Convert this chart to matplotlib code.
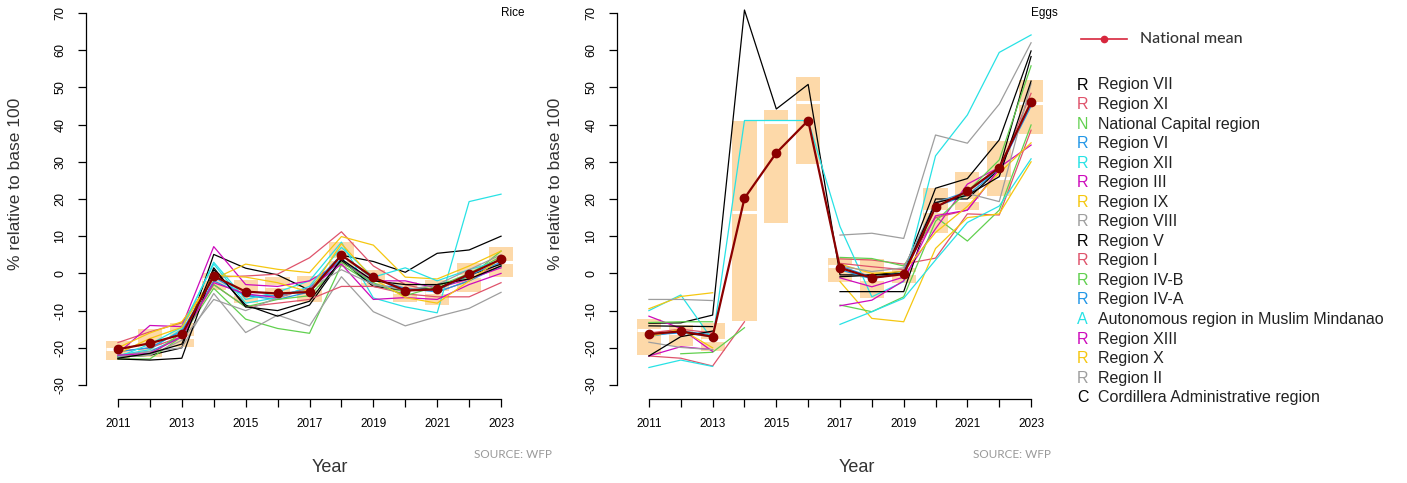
import numpy as np
import matplotlib.pyplot as plt
from matplotlib.lines import Line2D

years = np.arange(2011, 2024)

regions = ["Region VII", "Region XI", "National Capital region", "Region VI",
           "Region XII", "Region III", "Region IX", "Region VIII", "Region V",
           "Region I", "Region IV-B", "Region IV-A",
           "Autonomous region in Muslim Mindanao", "Region XIII", "Region X",
           "Region II", "Cordillera Administrative region"]

# R 4.x default palette, recycled over the regions
palette = ["#000000", "#DF536B", "#61D04F", "#2297E6", "#28E2E5", "#CD0BBC",
           "#F5C710", "#9E9E9E"]
region_colors = [palette[i % 8] for i in range(len(regions))]

nan = np.nan

rice = [
    [-22.4, -22.0, -20.0, 5.1, 1.4, -0.4, -4.5, 4.9, 3.2, 0.3, 5.4, 6.3, 10.0],
    [-18.6, -15.7, -13.3, -1.0, -0.7, -0.2, 4.2, 11.2, 2.0, -3.0, -5.0, -2.0, 3.0],
    [-23.0, -23.0, -17.0, -4.0, -12.3, -14.8, -16.1, 2.3, -3.0, -5.0, -3.0, -1.0, 6.0],
    [-22.0, -21.0, -17.0, -2.0, -6.0, -7.0, -5.0, 4.0, -3.0, -4.0, -5.0, -2.0, 2.0],
    [-22.0, -20.5, -15.0, 3.0, -7.0, -5.0, -2.0, 8.4, -6.6, -9.0, -10.6, 19.3, 21.3],
    [-21.5, -14.0, -14.3, 7.2, -3.0, -3.5, -2.0, 3.0, -2.0, -2.0, -4.0, -1.5, 1.5],
    [-20.0, -16.0, -13.0, -1.5, 2.5, 1.1, 0.2, 9.9, 7.6, -1.0, -1.5, 2.0, 6.0],
    [-22.0, -21.0, -20.0, -5.4, -15.9, -11.2, -14.1, -0.9, -10.3, -14.1, -11.6, -9.4, -5.1],
    [-23.0, -23.3, -22.8, 1.0, -8.5, -11.5, -8.5, 3.5, -3.5, -4.5, -4.0, -0.5, 2.5],
    [-21.0, -20.0, -17.0, -3.0, -9.0, -8.0, -7.0, -3.5, -3.5, -5.5, -6.3, -6.3, -2.5],
    [-22.5, -22.0, -16.0, -3.0, -9.0, -7.0, -6.0, 3.0, -2.5, -6.0, -3.5, 0.0, 4.5],
    [-21.0, -20.0, -15.5, -1.0, -6.0, -6.0, -4.0, 5.0, -1.5, -4.0, -4.5, -0.5, 3.0],
    [-22.5, -19.0, -14.5, 2.5, -8.0, -6.5, -3.5, 7.0, -1.0, 1.5, -2.0, 1.0, 3.5],
    [-22.0, -21.5, -17.0, -2.5, -5.5, -6.5, -4.0, 2.5, -7.0, -6.5, -7.0, -3.0, 0.0],
    [-21.5, -17.5, -14.5, -0.5, -1.0, -2.5, -5.0, 8.0, -1.5, -6.5, -8.0, -2.0, 4.0],
    [-22.5, -22.0, -18.0, -7.0, -10.0, -6.5, -4.0, 1.0, -3.0, -4.5, -3.0, 1.0, 5.0],
    [-22.8, -21.5, -19.0, 1.5, -9.0, -10.0, -7.5, 3.8, -2.0, -3.0, -3.0, -1.5, 2.0],
]
rice_mean = [-20.4, -18.8, -16.4, -0.7, -4.9, -5.4, -5.0, 4.9, -1.1, -4.6, -4.3, -0.2, 3.8]
rice_q1 = [-23.3, -22.5, -19.7, -4.5, -8.0, -6.7, -7.6, 1.8, -3.7, -7.6, -8.5, -4.9, -0.9]
rice_med = [-20.3, -19.5, -17.0, -1.5, -5.5, -3.5, -4.0, 4.0, -2.0, -5.0, -5.0, -0.7, 3.0]
rice_q3 = [-18.2, -15.0, -13.2, 0.2, -1.8, -0.9, -0.7, 8.4, 0.9, -2.2, -1.8, 2.7, 7.2]

eggs = [
    [-13.4, -13.3, -11.2, 70.8, 44.2, 50.8, -0.4, -0.4, 0.5, 22.9, 25.5, 35.9, 59.8],
    [-22.2, -22.8, -24.9, -13.0, nan, nan, 3.9, 3.6, 2.5, 4.1, 16.0, 15.7, 38.5],
    [nan, -21.6, -21.2, -14.6, nan, nan, 4.3, 4.0, 2.0, 15.2, 8.7, 17.0, 39.9],
    [-17.0, -15.5, -16.5, nan, nan, nan, 2.0, -1.0, 0.0, 18.0, 21.0, 28.0, 46.0],
    [-10.0, -5.8, -17.9, 41.1, 41.1, 41.1, 12.6, -6.3, -2.2, 31.6, 42.6, 59.4, 64.1],
    [-11.5, -14.8, -21.0, nan, nan, nan, -1.2, -3.6, -1.0, 12.0, 24.0, 28.5, 34.5],
    [-9.5, -6.2, -5.2, nan, nan, nan, -2.2, -12.1, -13.0, 6.7, 15.0, 16.0, 30.0],
    [-7.0, -7.0, -7.3, nan, nan, nan, 10.3, 10.8, 9.4, 37.2, 35.0, 45.5, 62.0],
    [-14.1, -14.2, -14.3, nan, nan, nan, -4.9, -4.9, -4.9, 20.0, 20.0, 28.0, 58.3],
    [-16.0, -15.0, -16.0, nan, nan, nan, 2.7, 1.8, 1.0, 15.0, 17.0, 28.0, 48.4],
    [-13.2, -13.0, -13.0, nan, nan, nan, -8.5, -10.3, -6.3, 14.0, 22.0, 30.5, 55.8],
    [-16.5, -16.0, -17.0, nan, nan, nan, 1.0, -1.5, 0.5, 19.0, 22.0, 28.0, 45.0],
    [-25.3, -23.3, -25.0, nan, nan, nan, -13.7, -10.3, -6.7, 3.6, 13.7, 18.1, 30.8],
    [-22.2, -19.7, -20.5, nan, nan, nan, -8.7, -7.2, -2.0, 15.5, 17.0, 28.0, 46.0],
    [-17.0, -15.0, -20.0, nan, nan, nan, 2.5, 0.0, 0.5, 11.0, 18.0, 27.0, 35.1],
    [-18.5, -19.9, -20.5, nan, nan, nan, 2.0, 0.5, 1.5, 19.0, 21.5, 19.3, 51.0],
    [-22.2, -17.0, -15.5, nan, nan, nan, -0.9, -0.5, 0.0, 19.0, 21.0, 26.0, 51.7],
]
eggs_mean = [-16.3, -15.6, -17.0, 20.2, 32.4, 41.1, 1.5, -1.2, -0.2, 17.8, 22.1, 28.4, 46.0]
eggs_q1 = [-21.9, -19.5, -20.8, -12.8, 13.5, 29.3, -2.2, -6.5, -2.5, 10.8, 17.0, 20.8, 37.5]
eggs_med = [-15.2, -16.0, -18.0, 16.6, 40.8, 46.1, 2.1, -1.5, 0.0, 16.8, 19.7, 25.6, 45.9]
eggs_q3 = [-12.3, -14.0, -13.2, 41.1, 43.9, 52.9, 4.2, 3.8, 1.4, 22.9, 27.3, 35.6, 52.0]

W, H = 1407, 483
fig = plt.figure(figsize=(W / 100, H / 100), dpi=100)
px = 72 / 100  # points per pixel

BOX = "#FDD9A9"
MEAN = "#8B0000"
arial = "Liberation Sans"


def panel(left_px, width_px, series, mean, q1, med, q3, title):
    top_px, bot_px = 5.56, 388.72
    ax = fig.add_axes([left_px / W, 1 - bot_px / H, width_px / W, (bot_px - top_px) / H])
    ax.set_xlim(2010.5, 2023.5)
    ax.set_ylim(-31, 72)

    # boxes with a white median bar
    bw = 0.76
    ax.bar(years, np.array(q3) - np.array(q1), bottom=q1, width=bw,
           color=BOX, edgecolor="none", zorder=1)
    ax.hlines(med, years - bw / 2, years + bw / 2, colors="white", lw=2.2, zorder=2)

    for vals, col in zip(series, region_colors):
        ax.plot(years, vals, color=col, lw=0.9, zorder=3)

    ax.plot(years, mean, color=MEAN, lw=1.6, marker="o", ms=6, zorder=4)

    ax.text(2023, 70, title, fontsize=8.5, family=arial,
            ha="left", va="center")

    for s in ["top", "right"]:
        ax.spines[s].set_visible(False)
    ax.spines["left"].set_position(("outward", 16 * px))
    ax.spines["bottom"].set_position(("outward", 10.3 * px))
    ax.spines["left"].set_bounds(-30, 70)
    ax.spines["bottom"].set_bounds(2011, 2023)
    for s in ["left", "bottom"]:
        ax.spines[s].set_linewidth(0.9)

    ax.set_yticks(np.arange(-30, 71, 10))
    ax.set_yticklabels([str(v) for v in range(-30, 71, 10)], rotation=90,
                       va="center", fontsize=9, family=arial)
    ax.set_xticks(years)
    ax.set_xticklabels([str(y) if y % 2 == 1 else "" for y in years],
                       fontsize=8.5, family=arial)
    ax.tick_params(length=6, width=0.9, pad=8)
    ax.patch.set_alpha(0)
    return ax


panel(102, 415, rice, rice_mean, rice_q1, rice_med, rice_q3, "Rice")
panel(633, 414, eggs, eggs_mean, eggs_q1, eggs_med, eggs_q3, "Eggs")


def ftext(x, y, s, **kw):
    fig.text(x / W, 1 - y / H, s, **kw)


lato = ["Lato", "DejaVu Sans"]
for xl in (16, 555):
    ftext(xl, 184, "% relative to base 100", rotation=90, ha="center",
          va="center", fontsize=12.5, family=arial, color="#333333")
for xc in (330, 857):
    ftext(xc, 468, "Year", ha="center", va="center", fontsize=13,
          family=arial, color="#333333")
for xr in (552, 1051):
    ftext(xr, 454, "SOURCE: WFP", ha="right", va="center", fontsize=8.5,
          family=lato, color="#999999")

# legend for the national mean
fig.add_artist(Line2D([1081 / W, 1127 / W], [1 - 39 / H, 1 - 39 / H],
                      color="#D7263D", lw=1.2))
fig.add_artist(Line2D([1104 / W], [1 - 39 / H], color="#D7263D",
                      marker="o", ms=4.5, lw=0))
ftext(1140, 39, "National mean", ha="left", va="center", fontsize=11.5,
      family=lato, fontweight="medium", color="#333333")

# regions listed with their initial as symbol
for i, (name, col) in enumerate(zip(regions, region_colors)):
    y = 85 + i * 19.54
    ftext(1077, y, name[0], ha="left", va="center", fontsize=11.5,
          family=arial, color=col)
    ftext(1098, y, name, ha="left", va="center", fontsize=11.5,
          family=arial, color="#222222")

fig.savefig("out.png", dpi=100)
